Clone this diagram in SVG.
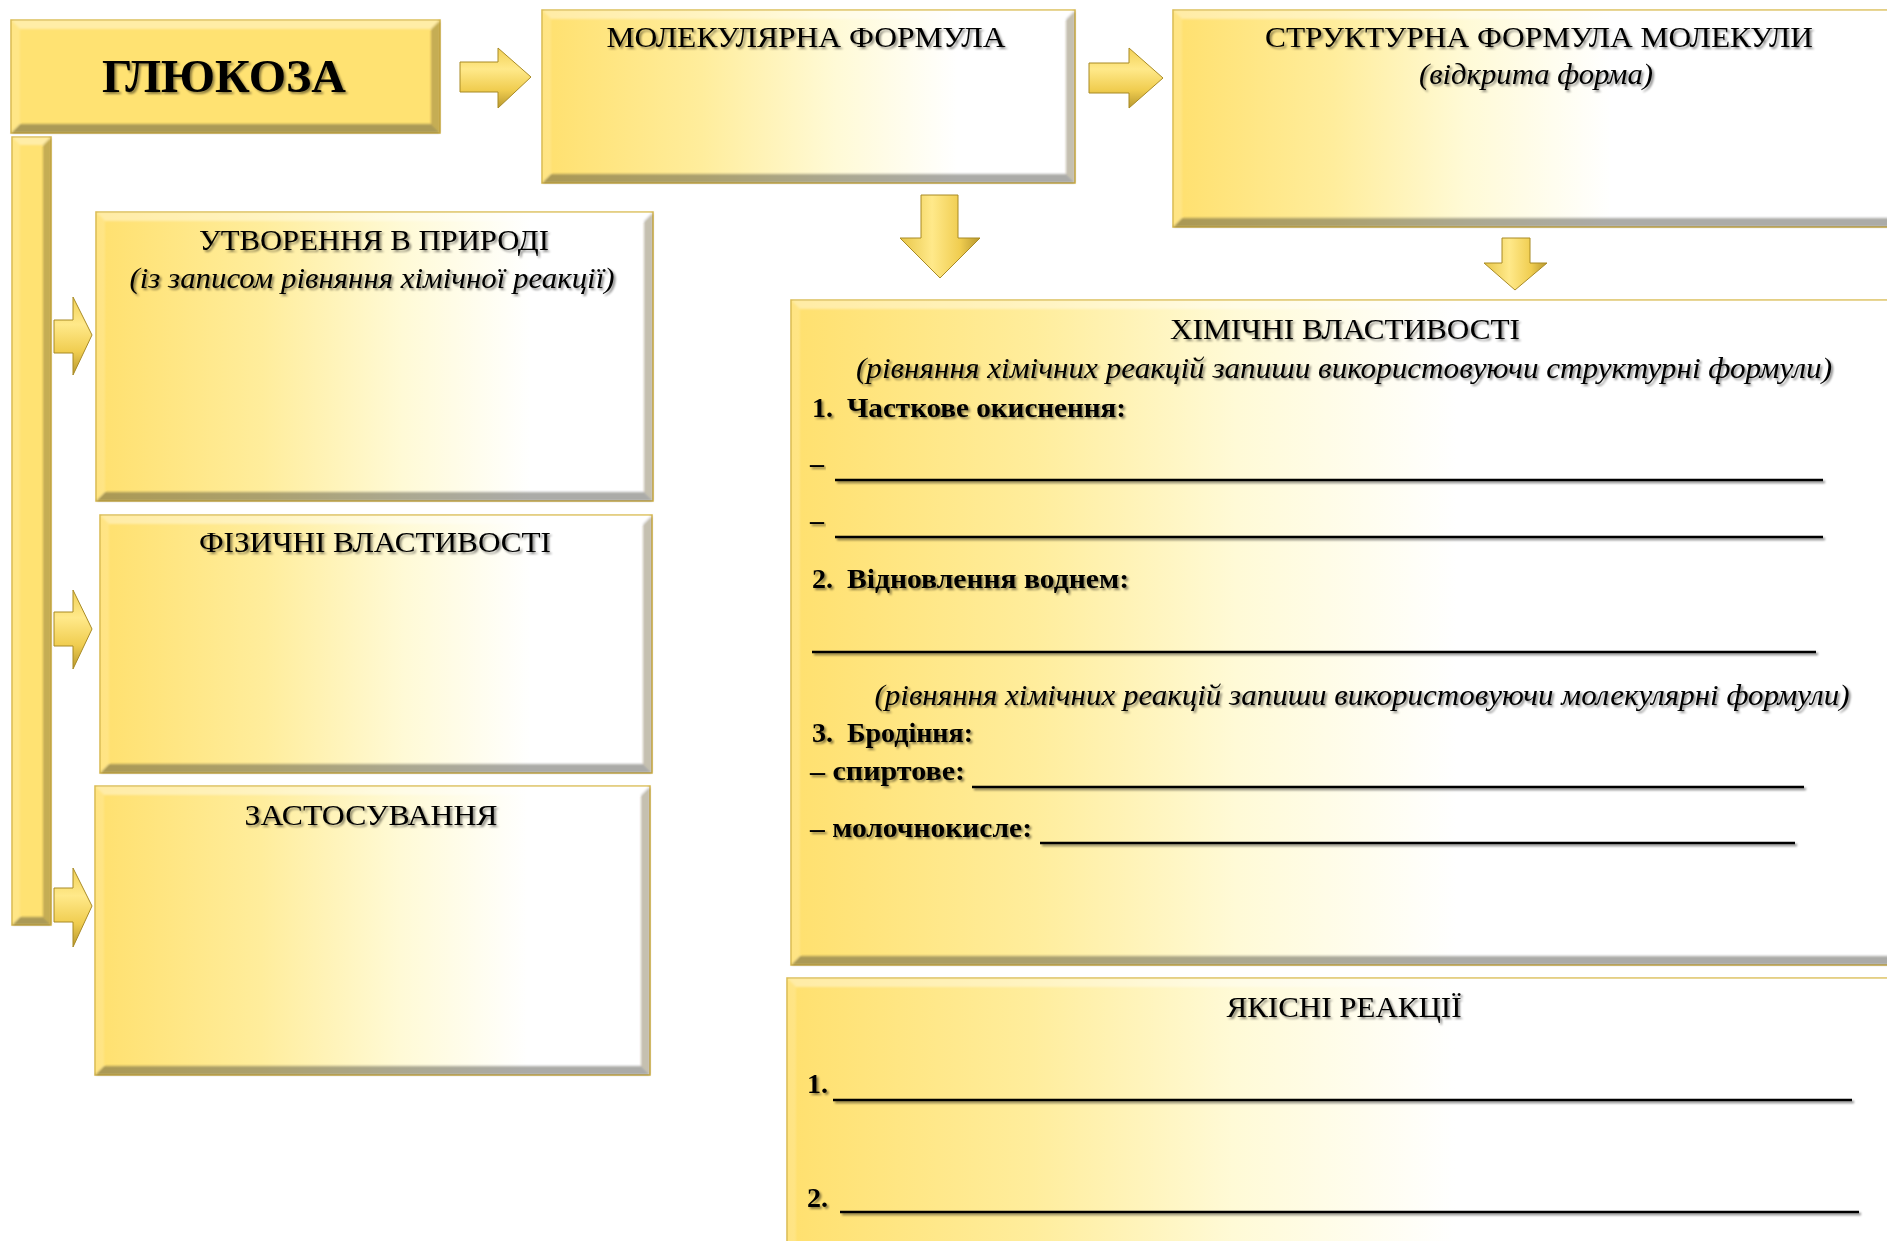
<svg xmlns="http://www.w3.org/2000/svg" width="1887" height="1241" viewBox="0 0 1887 1241">
  <defs>
    <!-- gold-to-white fill of the content panels -->
    <linearGradient id="panelFill" x1="0" y1="0" x2="1" y2="0">
      <stop offset="0" stop-color="#FFE06E"/>
      <stop offset="0.3" stop-color="#FFED9C"/>
      <stop offset="0.55" stop-color="#FFFAD6"/>
      <stop offset="0.78" stop-color="#FFFFFF"/>
      <stop offset="1" stop-color="#FFFFFF"/>
    </linearGradient>
    <linearGradient id="wideFill" x1="0" y1="0" x2="1" y2="0">
      <stop offset="0" stop-color="#FFE06E"/>
      <stop offset="0.22" stop-color="#FFED9C"/>
      <stop offset="0.4" stop-color="#FFFAD6"/>
      <stop offset="0.6" stop-color="#FFFFFF"/>
      <stop offset="1" stop-color="#FFFFFF"/>
    </linearGradient>
    <linearGradient id="arrowH" x1="0" y1="0" x2="0" y2="1">
      <stop offset="0" stop-color="#F2D055"/>
      <stop offset="0.35" stop-color="#FFE98A"/>
      <stop offset="0.7" stop-color="#F0CD50"/>
      <stop offset="1" stop-color="#B8982E"/>
    </linearGradient>
    <linearGradient id="arrowV" x1="0" y1="0" x2="1" y2="0">
      <stop offset="0" stop-color="#E8C648"/>
      <stop offset="0.4" stop-color="#FFE98A"/>
      <stop offset="0.75" stop-color="#F0CD50"/>
      <stop offset="1" stop-color="#B8982E"/>
    </linearGradient>
    <filter id="txtShadow" x="-5%" y="-30%" width="110%" height="160%">
      <feDropShadow dx="2" dy="2" stdDeviation="1.3" flood-color="#000" flood-opacity="0.45"/>
    </filter>
    <!-- rules are flat lines, so their shadow region is given in page units -->
    <filter id="ruleShadow" filterUnits="userSpaceOnUse" x="0" y="0" width="1887" height="1241">
      <feDropShadow dx="2" dy="2" stdDeviation="1.3" flood-color="#000" flood-opacity="0.45"/>
    </filter>
    <filter id="soft" x="-5%" y="-5%" width="110%" height="110%">
      <feGaussianBlur stdDeviation="0.8"/>
    </filter>
  </defs>
  <style>
    .frame { stroke: #D8B646; stroke-width: 1.5; }
    .gold { fill: #FFE272; }
    .bt { fill: #FFFFFF; opacity: 0.38; }
    .bl { fill: #FFFFFF; opacity: 0.15; }
    .br { fill: #5A4A10; opacity: 0.35; }
    .bb { fill: #3A3A30; opacity: 0.42; }
    .arw { stroke: #A88A25; stroke-width: 1; stroke-linejoin: miter; }
    .t { font-family: "Liberation Serif", "Times New Roman", serif; fill: #000; filter: url(#txtShadow); }
    .cap { font-size: 30px; text-anchor: middle; }
    .sub { font-size: 29px; font-style: italic; text-anchor: middle; }
    .body { font-size: 28px; font-weight: bold; }
    .rule { stroke: #000; stroke-width: 2.4; filter: url(#ruleShadow); }
  </style>

  <!-- main title block -->
  <g id="glucose">
    <rect class="gold frame" x="11" y="20" width="429" height="113"/>
    <g filter="url(#soft)">
      <polygon class="bt" points="11,20 440,20 431,29 20,29"/>
      <polygon class="bl" points="11,20 20,29 20,124 11,133"/>
      <polygon class="br" points="440,20 440,133 431,124 431,29"/>
      <polygon class="bb" points="11,133 20,124 431,124 440,133"/>
    </g>
    <text class="t" x="224" y="92" font-size="47" font-weight="bold" text-anchor="middle" textLength="244" lengthAdjust="spacingAndGlyphs">ГЛЮКОЗА</text>
  </g>

  <!-- vertical branch bar -->
  <g id="branch-bar">
    <rect class="gold frame" x="12" y="137" width="39" height="788"/>
    <g filter="url(#soft)">
      <polygon class="bt" points="12,137 51,137 43,145 20,145"/>
      <polygon class="bl" points="12,137 20,145 20,917 12,925"/>
      <polygon class="br" points="51,137 51,925 43,917 43,145"/>
      <polygon class="bb" points="12,925 20,917 43,917 51,925"/>
    </g>
  </g>

  <g id="molecular-formula">
    <rect class="frame" fill="url(#panelFill)" x="542" y="10" width="533" height="173"/>
    <g filter="url(#soft)">
      <polygon class="bt" points="542,10 1075,10 1066,19 551,19"/>
      <polygon class="bl" points="542,10 551,19 551,174 542,183"/>
      <polygon class="br" points="1075,10 1075,183 1066,174 1066,19"/>
      <polygon class="bb" points="542,183 551,174 1066,174 1075,183"/>
    </g>
    <text class="t cap" x="806" y="47" textLength="399" lengthAdjust="spacingAndGlyphs">МОЛЕКУЛЯРНА ФОРМУЛА</text>
  </g>

  <g id="structural-formula">
    <rect class="frame" fill="url(#wideFill)" x="1173" y="10" width="730" height="217"/>
    <g filter="url(#soft)">
      <polygon class="bt" points="1173,10 1903,10 1894,19 1182,19"/>
      <polygon class="bl" points="1173,10 1182,19 1182,218 1173,227"/>
      <polygon class="bb" points="1173,227 1182,218 1894,218 1903,227"/>
    </g>
    <text class="t cap" x="1539" y="47" textLength="548" lengthAdjust="spacingAndGlyphs">СТРУКТУРНА ФОРМУЛА МОЛЕКУЛИ</text>
    <text class="t sub" x="1536" y="84" textLength="234" lengthAdjust="spacingAndGlyphs">(відкрита форма)</text>
  </g>

  <g id="natural-formation">
    <rect class="frame" fill="url(#panelFill)" x="96" y="212" width="557" height="289"/>
    <g filter="url(#soft)">
      <polygon class="bt" points="96,212 653,212 644,221 105,221"/>
      <polygon class="bl" points="96,212 105,221 105,492 96,501"/>
      <polygon class="br" points="653,212 653,501 644,492 644,221"/>
      <polygon class="bb" points="96,501 105,492 644,492 653,501"/>
    </g>
    <text class="t cap" x="374" y="250" textLength="350" lengthAdjust="spacingAndGlyphs">УТВОРЕННЯ В ПРИРОДІ</text>
    <text class="t sub" x="372" y="288" textLength="485" lengthAdjust="spacingAndGlyphs">(із записом рівняння хімічної реакції)</text>
  </g>

  <g id="physical-properties">
    <rect class="frame" fill="url(#panelFill)" x="100" y="515" width="552" height="258"/>
    <g filter="url(#soft)">
      <polygon class="bt" points="100,515 652,515 643,524 109,524"/>
      <polygon class="bl" points="100,515 109,524 109,764 100,773"/>
      <polygon class="br" points="652,515 652,773 643,764 643,524"/>
      <polygon class="bb" points="100,773 109,764 643,764 652,773"/>
    </g>
    <text class="t cap" x="375" y="552" textLength="352" lengthAdjust="spacingAndGlyphs">ФІЗИЧНІ ВЛАСТИВОСТІ</text>
  </g>

  <g id="applications">
    <rect class="frame" fill="url(#panelFill)" x="95" y="786" width="555" height="289"/>
    <g filter="url(#soft)">
      <polygon class="bt" points="95,786 650,786 641,795 104,795"/>
      <polygon class="bl" points="95,786 104,795 104,1066 95,1075"/>
      <polygon class="br" points="650,786 650,1075 641,1066 641,795"/>
      <polygon class="bb" points="95,1075 104,1066 641,1066 650,1075"/>
    </g>
    <text class="t cap" x="371" y="825" textLength="253" lengthAdjust="spacingAndGlyphs">ЗАСТОСУВАННЯ</text>
  </g>

  <g id="chemical-properties">
    <rect class="frame" fill="url(#wideFill)" x="791" y="300" width="1110" height="665"/>
    <g filter="url(#soft)">
      <polygon class="bt" points="791,300 1901,300 1892,309 800,309"/>
      <polygon class="bl" points="791,300 800,309 800,956 791,965"/>
      <polygon class="bb" points="791,965 800,956 1892,956 1901,965"/>
    </g>
    <text class="t cap" x="1345" y="339" textLength="350" lengthAdjust="spacingAndGlyphs">ХІМІЧНІ ВЛАСТИВОСТІ</text>
    <text class="t sub" x="1344" y="378" textLength="976" lengthAdjust="spacingAndGlyphs">(рівняння хімічних реакцій запиши використовуючи структурні формули)</text>
    <text class="t body" x="812" y="417">1.</text>
    <text class="t body" x="847" y="417" textLength="279" lengthAdjust="spacingAndGlyphs">Часткове окиснення:</text>
    <text class="t body" x="810" y="472">–</text>
    <line class="rule" x1="835" y1="480" x2="1823" y2="480"/>
    <text class="t body" x="810" y="529">–</text>
    <line class="rule" x1="835" y1="537" x2="1823" y2="537"/>
    <text class="t body" x="812" y="588">2.</text>
    <text class="t body" x="847" y="588" textLength="282" lengthAdjust="spacingAndGlyphs">Відновлення воднем:</text>
    <line class="rule" x1="812" y1="652" x2="1816" y2="652"/>
    <text class="t sub" x="1362" y="705" textLength="975" lengthAdjust="spacingAndGlyphs">(рівняння хімічних реакцій запиши використовуючи молекулярні формули)</text>
    <text class="t body" x="812" y="742">3.</text>
    <text class="t body" x="847" y="742">Бродіння:</text>
    <text class="t body" x="810" y="780" textLength="155" lengthAdjust="spacingAndGlyphs">– спиртове:</text>
    <line class="rule" x1="972" y1="787" x2="1804" y2="787"/>
    <text class="t body" x="810" y="837" textLength="222" lengthAdjust="spacingAndGlyphs">– молочнокисле:</text>
    <line class="rule" x1="1040" y1="843" x2="1795" y2="843"/>
  </g>

  <g id="qualitative-reactions">
    <rect class="frame" fill="url(#wideFill)" x="787" y="978" width="1114" height="280"/>
    <g filter="url(#soft)">
      <polygon class="bt" points="787,978 1901,978 1892,987 796,987"/>
      <polygon class="bl" points="787,978 796,987 796,1258 787,1258"/>
    </g>
    <text class="t cap" x="1344" y="1017" textLength="235" lengthAdjust="spacingAndGlyphs">ЯКІСНІ РЕАКЦІЇ</text>
    <text class="t body" x="807" y="1093">1.</text>
    <line class="rule" x1="833" y1="1100" x2="1852" y2="1100"/>
    <text class="t body" x="807" y="1207">2.</text>
    <line class="rule" x1="840" y1="1212" x2="1859" y2="1212"/>
  </g>

  <!-- block arrows between the panels -->
  <g id="connectors">
    <polygon class="arw" fill="url(#arrowH)" points="460,62 498,62 498,48 531,77 498,108 498,92 460,92"/>
    <polygon class="arw" fill="url(#arrowH)" points="1089,63 1129,63 1129,48 1163,78 1129,108 1129,93 1089,93"/>
    <polygon class="arw" fill="url(#arrowV)" points="921,195 958,195 958,238 980,238 940,278 900,238 921,238"/>
    <polygon class="arw" fill="url(#arrowV)" points="1502,238 1530,238 1530,263 1547,263 1515,290 1484,263 1502,263"/>
    <polygon class="arw" fill="url(#arrowH)" points="54,320 73,320 73,297 92,335 73,375 73,353 54,353"/>
    <polygon class="arw" fill="url(#arrowH)" points="54,612 73,612 73,590 92,629 73,669 73,646 54,646"/>
    <polygon class="arw" fill="url(#arrowH)" points="54,888 73,888 73,868 92,906 73,947 73,922 54,922"/>
  </g>
</svg>
